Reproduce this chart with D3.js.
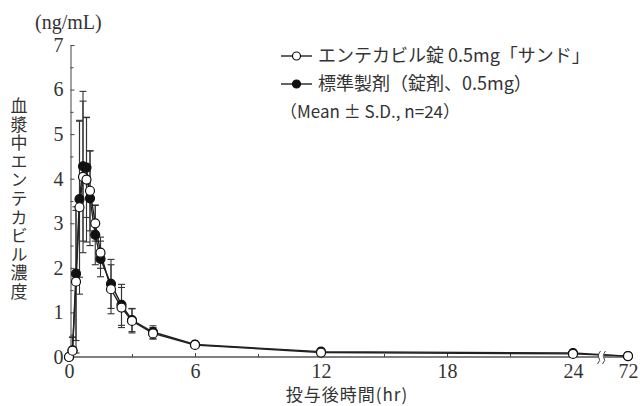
<!DOCTYPE html>
<html>
<head>
<meta charset="utf-8">
<script src="https://cdn.jsdelivr.net/npm/d3@7"></script>
<style>
  body { margin: 0; background: #fff; }
  svg { display: block; }
</style>
</head>
<body>
<svg id="chart" width="640" height="406"></svg>
<script>
// 時間 (hr)
const times = [0, 1/6, 1/3, 0.5, 2/3, 5/6, 1, 1.25, 1.5, 2, 2.5, 3, 4, 6, 12, 24, 72];
// エンテカビル錠 0.5mg「サンド」
const testMean = [0, 0.14, 1.69, 3.36, 4.04, 3.98, 3.73, 3.0, 2.34, 1.52, 1.11, 0.81, 0.53, 0.27, 0.10, 0.07, 0.02];
const testSD   = [0, 0.3, 1.6, 1.95, 1.7, 1.4, 0.9, 0.4, 0.35, 0.55, 0.45, 0.27, 0.13, 0.03, 0.02, 0.02, 0.01];
// 標準製剤（錠剤、0.5mg）
const refMean = [0, 0.15, 1.87, 3.54, 4.28, 4.25, 3.56, 2.74, 2.2, 1.64, 1.17, 0.83, 0.56, 0.28, 0.12, 0.09, 0.02];
const refSD   = [0, 0.3, 1.5, 1.75, 1.68, 1.12, 1.06, 0.67, 0.4, 0.55, 0.46, 0.26, 0.14, 0.03, 0.02, 0.02, 0.01];

const xTicks = [0, 6, 12, 18, 24, 72];
const xMinor = [3, 9, 15, 21];
const yTicks = [0, 1, 2, 3, 4, 5, 6, 7];
const yMinor = [0.5, 1.5, 2.5, 3.5, 4.5, 5.5, 6.5];

const SERIF = "'Liberation Serif', 'DejaVu Serif', serif";
const JP = "'Noto Sans CJK JP', sans-serif";
const TXT = "#333";

const svg = d3.select("#chart");

// 24 → 72 は軸を省略
const x = d3.scaleLinear().domain([0, 24, 72]).range([69, 573, 628]);
const y = d3.scaleLinear().domain([0, 7]).range([357, 45]);
const axisX = 70.5;

// y axis
const gy = svg.append("g").attr("transform", "translate(" + axisX + ",0)");
gy.call(d3.axisLeft(y).tickValues(yTicks).tickSizeInner(-4).tickSizeOuter(0).tickPadding(7).tickFormat(d3.format("d")));
gy.select(".domain").attr("stroke", "#444");
gy.selectAll(".tick line").attr("stroke", "#444");
gy.selectAll(".tick text").style("font-family", SERIF).style("font-size", "20px").attr("fill", TXT);

const gym = svg.append("g").attr("transform", "translate(" + axisX + ",0)");
gym.call(d3.axisLeft(y).tickValues(yMinor).tickSizeInner(-3).tickSizeOuter(0).tickFormat(""));
gym.select(".domain").remove();
gym.selectAll(".tick line").attr("stroke", "#444");

// x axis
const gx = svg.append("g").attr("transform", "translate(0," + y(0) + ")");
gx.call(d3.axisBottom(x).tickValues(xTicks).tickSizeInner(-4).tickSizeOuter(0).tickPadding(7).tickFormat(d3.format("d")));
gx.select(".domain").attr("d", "M" + axisX + ",0H632").attr("stroke", "#555").attr("stroke-width", 1.5);
gx.selectAll(".tick line").attr("stroke", "#444");
gx.selectAll(".tick text").style("font-family", SERIF).style("font-size", "20px").attr("fill", TXT);

const gxm = svg.append("g").attr("transform", "translate(0," + y(0) + ")");
gxm.call(d3.axisBottom(x).tickValues(xMinor).tickSizeInner(-3).tickSizeOuter(0).tickFormat(""));
gxm.select(".domain").remove();
gxm.selectAll(".tick line").attr("stroke", "#444");

// data
const series = [
  { mean: refMean, sd: refSD, fill: "#111" },
  { mean: testMean, sd: testSD, fill: "#fff" }
];

const line = d3.line()
  .x(function(d) { return x(d.t); })
  .y(function(d) { return y(d.v); });

series.forEach(function(s) {
  s.pts = times.map(function(t, i) { return { t: t, v: s.mean[i], sd: s.sd[i] }; });
});

// error bars
series.forEach(function(s) {
  const eb = svg.append("g").attr("stroke", "#333").attr("stroke-width", 1.1);
  const bars = s.pts.filter(function(d) { return d.sd > 0.05; });
  eb.selectAll(".v").data(bars).enter().append("line")
    .attr("x1", function(d) { return x(d.t); })
    .attr("x2", function(d) { return x(d.t); })
    .attr("y1", function(d) { return y(d.v + d.sd); })
    .attr("y2", function(d) { return y(Math.max(0, d.v - d.sd)); });
  eb.selectAll(".ct").data(bars).enter().append("line")
    .attr("x1", function(d) { return x(d.t) - 3.5; })
    .attr("x2", function(d) { return x(d.t) + 3.5; })
    .attr("y1", function(d) { return y(d.v + d.sd); })
    .attr("y2", function(d) { return y(d.v + d.sd); });
  eb.selectAll(".cb").data(bars.filter(function(d) { return d.v - d.sd > 0; })).enter().append("line")
    .attr("x1", function(d) { return x(d.t) - 3.5; })
    .attr("x2", function(d) { return x(d.t) + 3.5; })
    .attr("y1", function(d) { return y(d.v - d.sd); })
    .attr("y2", function(d) { return y(d.v - d.sd); });
});

series.forEach(function(s) {
  svg.append("path").datum(s.pts)
    .attr("d", line)
    .attr("fill", "none")
    .attr("stroke", "#222")
    .attr("stroke-width", 1.4);
});

// axis break
const bx = (x(24) + x(72)) / 2 + 1;
svg.append("rect").attr("x", bx - 2.5).attr("y", y(0) - 6).attr("width", 5).attr("height", 10).attr("fill", "#fff");
[-2.5, 2.5].forEach(function(o) {
  svg.append("path")
    .attr("d", "M" + (bx + o + 1.5) + "," + (y(0) - 6) + " Q" + (bx + o - 2) + "," + (y(0) - 1) + " " + (bx + o) + "," + (y(0) + 1) +
               " Q" + (bx + o + 2) + "," + (y(0) + 3) + " " + (bx + o - 1.5) + "," + (y(0) + 7))
    .attr("fill", "none").attr("stroke", "#444").attr("stroke-width", 1);
});

series.forEach(function(s) {
  svg.append("g").selectAll("circle").data(s.pts).enter().append("circle")
    .attr("cx", function(d) { return x(d.t); })
    .attr("cy", function(d) { return y(d.v); })
    .attr("r", 4.5)
    .attr("fill", s.fill)
    .attr("stroke", "#111")
    .attr("stroke-width", 1.2);
});

// titles
svg.append("text").attr("x", 35).attr("y", 29)
  .style("font-family", SERIF).style("font-size", "20px").attr("fill", TXT).text("(ng/mL)");

svg.append("text")
  .attr("x", 19).attr("y", 97)
  .style("font-family", JP).style("font-size", "17px")
  .style("writing-mode", "vertical-rl").style("letter-spacing", "1.6px")
  .attr("fill", TXT)
  .text("血漿中エンテカビル濃度");

svg.append("text").attr("x", 347).attr("y", 401).attr("text-anchor", "middle")
  .style("font-family", JP).style("font-size", "17px").style("letter-spacing", "1px")
  .attr("fill", TXT).text("投与後時間(hr)");

// legend
const legend = [
  { label: "エンテカビル錠 0.5mg「サンド」", fill: "#fff" },
  { label: "標準製剤（錠剤、0.5mg）", fill: "#111" }
];
legend.forEach(function(l, i) {
  const ly = 56 + i * 28;
  svg.append("line").attr("x1", 281).attr("x2", 312).attr("y1", ly).attr("y2", ly).attr("stroke", "#222").attr("stroke-width", 1.4);
  svg.append("circle").attr("cx", 296.5).attr("cy", ly).attr("r", 4).attr("fill", l.fill).attr("stroke", "#111").attr("stroke-width", 1.2);
  svg.append("text").attr("x", 318).attr("y", ly + 6)
    .style("font-family", JP).style("font-size", "18px").attr("fill", TXT).text(l.label);
});
svg.append("text").attr("x", 280).attr("y", 118)
  .style("font-family", JP).style("font-size", "17px").attr("fill", TXT).text("（Mean ± S.D., n=24）");
</script>
</body>
</html>
